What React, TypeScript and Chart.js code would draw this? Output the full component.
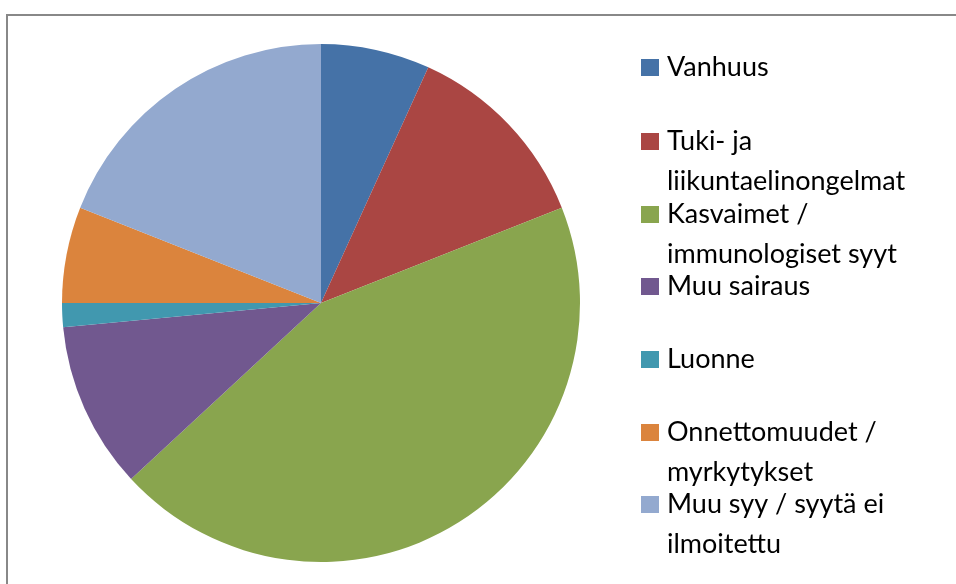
import React, { useEffect, useRef } from "react";
import { Chart, registerables } from "chart.js";

Chart.register(...registerables);

const categories: string[][] = [
  ["Vanhuus"],
  ["Tuki- ja", "liikuntaelinongelmat"],
  ["Kasvaimet /", "immunologiset syyt"],
  ["Muu sairaus"],
  ["Luonne"],
  ["Onnettomuudet /", "myrkytykset"],
  ["Muu syy / syytä ei", "ilmoitettu"],
];
const values: number[] = [6.8, 12.2, 44.1, 10.4, 1.5, 6.0, 19.0];
const colors: string[] = ["#4572A7", "#AA4643", "#89A54E", "#71588F", "#4198AF", "#DB843D", "#93A9CF"];

const FONT = "27px Lato, 'Liberation Sans', sans-serif";

const frameAndLegend = {
  id: "frameAndLegend",
  beforeDraw(chart: any) {
    const ctx = chart.ctx;
    ctx.save();
    ctx.strokeStyle = "#888888";
    ctx.lineWidth = 2;
    ctx.strokeRect(7, 15, 2000, 2000);
    ctx.restore();
  },
  afterDraw(chart: any) {
    const ctx = chart.ctx;
    const labels = chart.data.labels as string[][];
    const bg = chart.data.datasets[0].backgroundColor as string[];
    ctx.save();
    ctx.font = FONT;
    ctx.textBaseline = "alphabetic";
    ctx.textAlign = "left";
    const baselines = [76, 150, 223, 295, 368, 441, 513];
    labels.forEach((lines, i) => {
      const y = baselines[i];
      ctx.fillStyle = bg[i];
      ctx.fillRect(641, y - 17, 18, 17);
      ctx.fillStyle = "#000000";
      lines.forEach((line, j) => {
        ctx.fillText(line, 667, y + j * 40);
      });
    });
    ctx.restore();
  },
};

export default function App() {
  const ref = useRef<HTMLCanvasElement>(null);
  useEffect(() => {
    document.body.style.margin = "0";
    const chart = new Chart(ref.current!, {
      type: "pie",
      data: {
        labels: categories as any,
        datasets: [
          {
            data: values,
            backgroundColor: colors,
            borderWidth: 0,
          },
        ],
      },
      options: {
        animation: false,
        responsive: false,
        layout: { padding: { left: 62, top: 44, right: 376, bottom: 22 } },
        plugins: {
          legend: { display: false },
          tooltip: { enabled: false },
        },
      },
      plugins: [frameAndLegend],
    });
    return () => chart.destroy();
  }, []);
  return (
    <div style={{ width: 956, height: 584, background: "#fff" }}>
      <canvas ref={ref} width={956} height={584} style={{ display: "block" }} />
    </div>
  );
}
